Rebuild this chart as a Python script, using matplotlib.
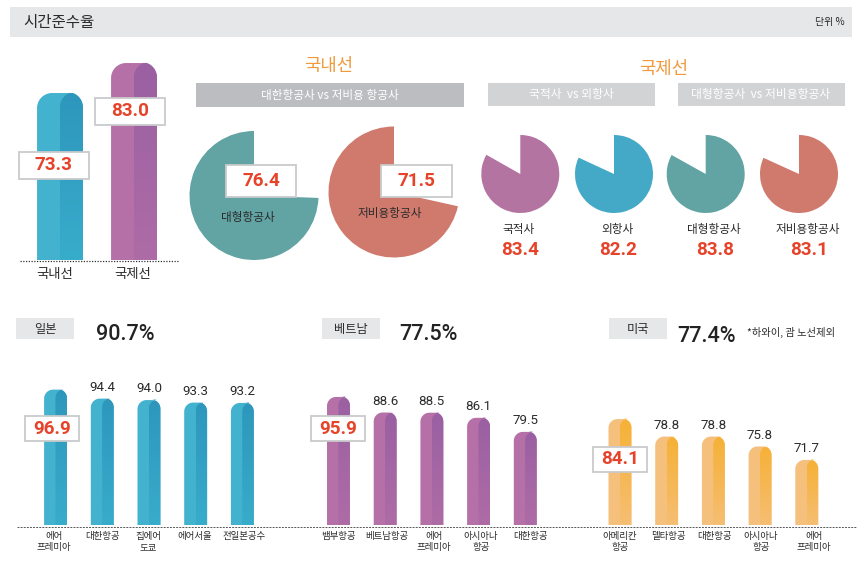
import numpy as np
import matplotlib
matplotlib.use("Agg")
import matplotlib.pyplot as plt
from matplotlib.patches import Rectangle, PathPatch
from matplotlib.path import Path

plt.rcParams['font.family'] = ['Noto Sans CJK KR', 'DejaVu Sans']

W, H = 867, 570
KR = ['Noto Sans CJK KR', 'DejaVu Sans']
NUM = ['Roboto', 'DejaVu Sans']

# ---------- data ----------
route_names = ['국내선', '국제선']
route_values = [73.3, 83.0]

dom_names = ['대형항공사', '저비용항공사']
dom_labels = [76.4, 71.5]
dom_drawn_share = [74.4, 71.5]      # slice size as drawn in the picture

intl_names = ['국적사', '외항사', '대형항공사', '저비용항공사']
intl_labels = [83.4, 82.2, 83.8, 83.1]
intl_drawn_share = [83.2, 81.9, 83.1, 81.8]  # slice size as drawn in the picture

jp_names = ['에어\n프레미아', '대한항공', '집에어\n도쿄', '에어서울', '전일본공수']
jp_values = [96.9, 94.4, 94.0, 93.3, 93.2]
vn_names = ['뱀부항공', '베트남항공', '에어\n프레미아', '아시아나\n항공', '대한항공']
vn_values = [95.9, 88.6, 88.5, 86.1, 79.5]
us_names = ['아메리칸\n항공', '델타항공', '대한항공', '아시아나\n항공', '에어\n프레미아']
us_values = [84.1, 78.8, 78.8, 75.8, 71.7]

# ---------- colours ----------
BLUE = ('#43B2CF', '#2E96BC', '#38ACCB')
PURPLE = ('#B670A8', '#9A60A2', '#AE6CA6')
ORANGE = ('#F5BF7C', '#F5B136', '#F6BE72')
TEAL = '#62A3A3'
SALMON = '#D0796D'
PIE_PURPLE = '#B474A2'
PIE_BLUE = '#43A9C6'
RED = '#E5432A'
INK = '#2B2B2B'

fig = plt.figure(figsize=(W / 100, H / 100), dpi=100, facecolor='white')


def add_px_axes(x0, y0, x1, y1, **kw):
    """Axes placed by pixel box (y measured from the top of the image)."""
    return fig.add_axes([x0 / W, 1 - y1 / H, (x1 - x0) / W, (y1 - y0) / H], **kw)


def bar_outline(x0, x1, top, bottom, rx, ry, n=24):
    t = np.linspace(np.pi, np.pi / 2, n)
    left_x = x0 + rx + rx * np.cos(t)
    left_y = top - ry + ry * np.sin(t)
    right_x = x1 - rx - rx * np.cos(t[::-1])
    right_y = top - ry + ry * np.sin(t[::-1])
    xs = np.r_[x0, left_x, right_x, x1]
    ys = np.r_[bottom, left_y, right_y, bottom]
    return np.column_stack([xs, ys])


def draw_bars(ax, values, colours, width, radius_px):
    light, dark, dark_low = colours
    bottom, top = ax.get_ylim()
    ax_w = ax.get_position().width * W
    ax_h = ax.get_position().height * H
    n = len(values)
    rx = radius_px * n / ax_w
    ry = radius_px * (top - bottom) / ax_h
    grad = np.linspace(0, 1, 64)[:, None, None]
    c0 = np.array(matplotlib.colors.to_rgb(dark))[None, None, :]
    c1 = np.array(matplotlib.colors.to_rgb(dark_low))[None, None, :]
    img = c0 * (1 - grad) + c1 * grad
    for i, v in enumerate(values):
        ax.fill(*bar_outline(i - width / 2, i + width / 2, v, bottom, rx, ry).T,
                color=light, lw=0, zorder=2)
        verts = bar_outline(i - 0.002, i + width / 2, v + ry * 0.06, bottom, rx, ry)
        patch = PathPatch(Path(np.vstack([verts, verts[0]]), closed=True),
                          transform=ax.transData, fc='none', ec='none')
        ax.add_patch(patch)
        im = ax.imshow(img, extent=(i - 0.002, i + width / 2, bottom, v + ry * 0.06),
                       aspect='auto', origin='upper', zorder=3, interpolation='bilinear')
        im.set_clip_path(patch)
    ax.set_xlim(-0.5, n - 0.5)
    ax.set_ylim(bottom, top)


# ---------- overall bars ----------
for (x0, x1), val, cols in zip([(23, 97), (97, 171)], route_values, [BLUE, PURPLE]):
    a = add_px_axes(x0, 55, x1, 260)
    a.set_ylim(19.3, 85.6)
    draw_bars(a, [val], cols, 0.62, 15)
    a.axis('off')


# ---------- pies ----------
def draw_pie(cx, cy, r, share, colour, counterclock):
    a = add_px_axes(cx - r, cy - r, cx + r, cy + r)
    a.pie([share, 100 - share], colors=[colour, 'none'], startangle=90,
          counterclock=counterclock, radius=1.0, wedgeprops={'lw': 0})
    a.set_xlim(-1, 1)
    a.set_ylim(-1, 1)


dom_centres = [(254, 195.5, 64.5), (394, 192, 65.5)]
for (cx, cy, r), share, col in zip(dom_centres, dom_drawn_share, [TEAL, SALMON]):
    draw_pie(cx, cy, r, share, col, True)

intl_cx = [520.3, 614, 705.7, 799]
for cx, share, col in zip(intl_cx, intl_drawn_share, [PIE_PURPLE, PIE_BLUE, TEAL, SALMON]):
    draw_pie(cx, 174, 39, share, col, False)

# ---------- airline panels ----------
panels = [
    (32.2, jp_values, BLUE, 59.3, 100.96),
    (315.1, vn_values, PURPLE, 35.8, 106.2),
    (596.6, us_values, ORANGE, 52.0, 97.45),
]
for left, vals, cols, lo, hi in panels:
    a = add_px_axes(left, 375, left + 233.5, 525)
    a.set_ylim(lo, hi)
    draw_bars(a, vals, cols, 0.49, 9)
    a.axis('off')
    for i, v in enumerate(vals):
        if i == 0:
            continue
        a.annotate(f'{v:.1f}', (i, v), xytext=(0, 3.5), textcoords='offset points',
                   ha='center', va='bottom', fontsize=9.6, color=INK,
                   family=NUM, annotation_clip=False)

# ---------- overlay: bands, boxes, texts ----------
ov = fig.add_axes([0, 0, 1, 1], zorder=10)
ov.set_xlim(0, W)
ov.set_ylim(H, 0)
ov.axis('off')
ov.patch.set_alpha(0)

under = fig.add_axes([0, 0, 1, 1], zorder=-1)
under.set_xlim(0, W)
under.set_ylim(H, 0)
under.axis('off')


def band(x0, y0, x1, y1, c):
    under.add_patch(Rectangle((x0, y0), x1 - x0, y1 - y0, fc=c, ec='none'))


def txt(x, y, s, size, color=INK, weight='normal', ha='center', family=KR, va='center', **kw):
    ov.text(x, y, s, fontsize=size, color=color, weight=weight, ha=ha, va=va,
            family=family, **kw)


def value_box(x0, y0, x1, y1, v):
    ov.add_patch(Rectangle((x0, y0), x1 - x0, y1 - y0, fc='white', ec='#C9CACB', lw=1.3))
    txt((x0 + x1) / 2, (y0 + y1) / 2, f'{v:.1f}', 13.6, RED, 'bold', family=NUM)


band(10, 7, 852, 37, '#E6E7E8')
txt(23, 22, '시간준수율', 11.2, ha='left')
txt(845, 22, '단위 %', 7.2, ha='right')

txt(329, 66, '국내선', 12.8, '#F09A3E')
txt(664, 69, '국제선', 12.8, '#F09A3E')
band(196, 83, 464, 107, '#BCBDC0')
txt(330, 95, '대한항공사 vs 저비용 항공사', 8.4, 'white')
band(488, 83, 655, 106, '#D1D3D4')
txt(571, 94.5, '국적사  vs 외항사', 8.5, 'white')
band(678, 83, 845, 106, '#D1D3D4')
txt(761, 94.5, '대형항공사  vs 저비용항공사', 8.5, 'white')

value_box(18.5, 152, 89, 179, route_values[0])
value_box(94.5, 97.5, 165, 125, route_values[1])
value_box(226, 165, 296, 197, dom_labels[0])
value_box(381, 165, 452, 197, dom_labels[1])
txt(248, 217, dom_names[0], 8.4)
txt(390, 213.5, dom_names[1], 8.4)

for x, name in zip([55, 133], route_names):
    txt(x, 274, name, 9.6)

for x, name, v in zip([519, 617, 714, 808], intl_names, intl_labels):
    txt(x, 230, name, 8.4)
    txt(x + 1, 250, f'{v:.1f}', 13.6, RED, 'bold', family=NUM)

for x0, name in zip([16, 322, 609], ['일본', '베트남', '미국']):
    band(x0, 318, x0 + 58, 339, '#E6E7E8')
    txt(x0 + 29, 329, name, 8.8, weight='medium')

txt(125, 335, '90.7%', 15.5, '#222222', 'medium', family=NUM)
txt(428.7, 335, '77.5%', 15.5, '#222222', 'medium', family=NUM)
txt(706.7, 336, '77.4%', 15.5, '#222222', 'medium', family=NUM)
txt(747, 332, '*하와이, 괌 노선제외', 7.4, ha='left')

label_x = [
    ([53.7, 102, 148.5, 195, 244], jp_names),
    ([338.7, 387, 434, 481, 530], vn_names),
    ([620, 668, 715, 761, 814], us_names),
]
for xs, names in label_x:
    for x, name in zip(xs, names):
        txt(x, 532, name, 6.8, va='top', linespacing=1.25)

value_box(25, 416, 79, 441, jp_values[0])
value_box(310.5, 416, 365, 441, vn_values[0])
value_box(592.7, 447, 647, 472, us_values[0])

ov.plot([20, 179], [260.5, 260.5], color='#333333', lw=0.9, ls=(0, (1, 1.2)))
ov.plot([17, 856], [527, 527], color='#555555', lw=0.7, ls=(0, (2, 1.2)))

fig.savefig('out.png', dpi=100, facecolor='white')
